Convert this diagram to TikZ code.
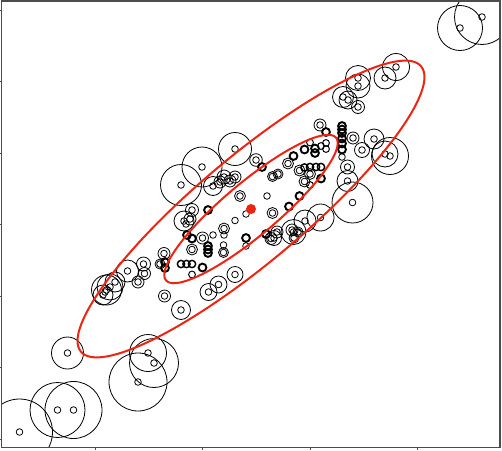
\documentclass[tikz,border=0pt]{standalone}
\usepackage{tikz}
\definecolor{ellred}{RGB}{238,36,18}
\tikzset{sample/.style={draw=black, line width=0.6pt}}
\tikzset{contour/.style={draw=ellred, line width=1.5pt}}
\tikzset{axisframe/.style={draw=black!70, line width=0.9pt}}
\tikzset{tickmark/.style={draw=black!70, line width=0.6pt}}
\begin{document}
\begin{tikzpicture}[x=0.75pt, y=-0.75pt]
            \useasboundingbox (0, 0) rectangle (502, 450);
            \coordinate (mean) at (251, 209);
            \begin{scope}
                \clip (1.5, 1) rectangle (500, 447.5);
                \foreach \x/\y/\r in {460/28/22.5, 482/17/27.5, 396/67/13.5, 385/78/11, 358/78/12.5, 358/86/12, 343/97/10.5, 348/100/9, 358/107/6.5,
                    320/125/6, 326/132/4.5, 342/126/4.5, 342/129.5/4.5, 342/133/4.5, 342/138.5/4.5, 342/143.5/4.5, 342/149.5/4.5, 342/157/3.3,
                    353/138/6, 362/150/7.5, 374/139/10, 385/154/13, 390/156/18.5, 347.5/167/7, 347.5/181/10.5, 352.5/202.5/20.5, 320.5/217.5/13.5, 305/221/11,
                    181/185/20.5, 202/167/20, 235/149/16.5, 256/160/6.3, 262/167/4.5, 213/186/9.5, 220/182/6, 224/177/7, 230/181/6, 235/177/6,
                    240/196/5.5, 192/210/6.5, 208/210/4.5, 184/221/10, 190/219/6, 186/224/3.3, 246/214/3.3, 267/196/3.3, 235/220.5/3.3,
                    187/235/4.5, 192/238.5/4.5, 202.5/238/6, 213/235/3.3, 224/228.5/5.5, 224/235/3.3, 246/238/4.5, 246/246/3.3,
                    192/249.5/5.5, 208/246/4.5, 208/249.5/4.5, 208/253/4.5, 223.5/245/3.3, 223.5/252.5/5, 165/262/4.5, 165/268/4.5, 164/253.5/6,
                    160/264/5, 181/264/4, 186.5/264/4, 192/264/4, 202.5/267.5/4.5, 192/274.5/3.5, 235/274.5/8, 218.5/284.5/8.5, 208.5/292/8.5,
                    164.5/296/6, 181/310/9.5, 266/234/4.5, 274/238/7.5, 106.5/290/15, 110/287/13, 115/282/10, 105/292/3.3, 103/295/10,
                    127.5/271/11, 143.5/264/7, 144.5/273.5/6, 138/282/6, 67.5/353/16, 148/353/18.5, 154/363/24.5, 138/382/29,
                    57.5/410/27.5, 73.5/410/28.5, 19.5/432/33, 293.5/232/12.5, 292/230/6, 298/232/5, 294/238/5, 277/232/6, 271/238.5/6,
                    310/142.5/3.5, 326/143/3.5, 321/146/3.5, 315/148.5/4.5, 315/153/4.5, 326/149/3.5, 304.5/149.5/4.5, 293.5/156/4.5,
                    288/163.5/5.5, 316/167/4, 310/167/4, 304.5/167.5/4, 321/167/4, 310/174/5.5, 321/178.5/4.5, 299.5/170.5/5.5,
                    304.5/181.5/5.5, 310/185/3.5, 299.5/196/4.5, 289/206.5/4.5, 272.5/176.5/5, 278/174/5, 272.5/213/5.5} {
                    \draw[sample] (\x, \y) circle [radius=3.3*0.75pt] (\x, \y) circle [radius=\r*0.75pt];
                }
                \draw[contour, rotate around={40:(mean)}] (mean) ellipse [x radius=222*0.75pt, y radius=53*0.75pt];
                \draw[contour, rotate around={40:(mean)}] (mean) ellipse [x radius=111*0.75pt, y radius=26.5*0.75pt];
                \fill[ellred] (mean) circle [radius=5*0.75pt];
            \end{scope}
            \draw[axisframe] (1.5, 1) rectangle (500, 447.5);
            \foreach \y in {10, 81.5, 153, 224.5, 296, 367.5, 439} {
                \draw[tickmark] (0, \y) -- (1.5, \y);
            }
            \foreach \x in {95, 202.5, 310, 417.5} {
                \draw[tickmark] (\x, 447.5) -- (\x, 450);
            }
        \end{tikzpicture}
\end{document}
